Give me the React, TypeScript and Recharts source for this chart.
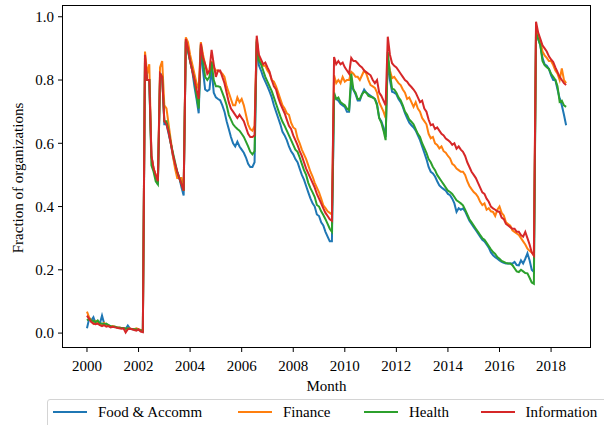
import { LineChart, Line, XAxis, YAxis } from "recharts"

// monthly fraction of organizations, Jan 2000 .. Aug 2018
const START_YEAR = 2000

const foodAccomm = [
  0.015, 0.045, 0.04, 0.05, 0.03, 0.035, 0.03, 0.055, 0.03, 0.025, 0.025, 0.022, 0.02, 0.02, 0.018, 0.017, 0.016, 0.015, 0.013, 0.024, 0.014, 0.012, 0.012, 0.011, 0.01, 0.008, 0.005,
  0.87, 0.8, 0.8, 0.56, 0.52, 0.49, 0.47, 0.8, 0.82, 0.66, 0.66, 0.63, 0.6, 0.56, 0.53, 0.51, 0.49, 0.46, 0.435,
  0.92, 0.89, 0.86, 0.83, 0.78, 0.74, 0.695,
  0.9, 0.83, 0.77, 0.765, 0.77, 0.837, 0.76, 0.745, 0.74, 0.736, 0.72, 0.7, 0.67, 0.645, 0.62, 0.6, 0.59, 0.605, 0.59, 0.58, 0.57, 0.555, 0.535, 0.525, 0.525, 0.54,
  0.92,
  0.847, 0.83, 0.81, 0.795, 0.78, 0.763, 0.745, 0.72, 0.7, 0.68, 0.66, 0.636, 0.625, 0.61, 0.59, 0.575, 0.565, 0.55, 0.54, 0.52, 0.5, 0.485, 0.465, 0.445, 0.426, 0.41, 0.4, 0.375, 0.37, 0.35, 0.34, 0.32, 0.305, 0.29, 0.29,
  0.75, 0.74, 0.735, 0.725, 0.72, 0.715, 0.7, 0.7, 0.79, 0.77, 0.755, 0.735, 0.735, 0.755, 0.77, 0.76, 0.755, 0.75, 0.745, 0.74, 0.725, 0.68, 0.67, 0.65, 0.62,
  0.87, 0.8, 0.763, 0.76, 0.755, 0.74, 0.73, 0.715, 0.695, 0.68, 0.665, 0.657, 0.65, 0.64, 0.625, 0.61, 0.59, 0.57, 0.55, 0.525, 0.51, 0.505, 0.495, 0.48, 0.467, 0.46, 0.455, 0.45, 0.44, 0.436, 0.425, 0.41, 0.383, 0.395, 0.39, 0.394, 0.385, 0.37, 0.355, 0.345, 0.335, 0.325, 0.315, 0.305, 0.295, 0.29, 0.28, 0.27, 0.255, 0.246, 0.24, 0.235, 0.23, 0.225, 0.222, 0.22, 0.22, 0.22, 0.22, 0.225, 0.215, 0.214, 0.23, 0.22, 0.235, 0.252, 0.23, 0.2, 0.193,
  0.96, 0.93, 0.91, 0.87, 0.85, 0.845, 0.835, 0.815, 0.8, 0.8, 0.77, 0.742, 0.72, 0.69, 0.657,
]

const finance = [
  0.068, 0.05, 0.04, 0.03, 0.038, 0.03, 0.028, 0.025, 0.032, 0.025, 0.024, 0.02, 0.022, 0.02, 0.018, 0.018, 0.016, 0.015, 0.012, 0.015, 0.014, 0.013, 0.012, 0.015, 0.012, 0.01, 0.008,
  0.89, 0.82, 0.85, 0.56, 0.52, 0.5, 0.48, 0.84, 0.86, 0.72, 0.71, 0.66, 0.61, 0.56, 0.52, 0.49, 0.49, 0.49, 0.45,
  0.935, 0.92, 0.88, 0.85, 0.82, 0.79, 0.77,
  0.92, 0.88, 0.85, 0.83, 0.82, 0.86, 0.84, 0.83, 0.83, 0.826, 0.82, 0.81, 0.78, 0.76, 0.74, 0.72, 0.72, 0.745, 0.73, 0.74, 0.72, 0.69, 0.66, 0.645, 0.64, 0.655,
  0.93,
  0.87, 0.86, 0.845, 0.845, 0.83, 0.82, 0.8, 0.795, 0.78, 0.76, 0.74, 0.72, 0.71, 0.695, 0.69, 0.665, 0.65, 0.645, 0.616, 0.6, 0.58, 0.565, 0.55, 0.53, 0.51, 0.495, 0.475, 0.46, 0.445, 0.425, 0.404, 0.395, 0.385, 0.38, 0.375,
  0.815, 0.79, 0.8, 0.79, 0.81, 0.795, 0.8, 0.8, 0.826, 0.82, 0.81, 0.81, 0.8, 0.815, 0.83, 0.82, 0.8, 0.784, 0.78, 0.775, 0.76, 0.73, 0.715, 0.7, 0.68,
  0.868, 0.83, 0.806, 0.81, 0.8, 0.79, 0.784, 0.77, 0.76, 0.74, 0.745, 0.73, 0.715, 0.73, 0.71, 0.7, 0.68, 0.67, 0.66, 0.63, 0.616, 0.62, 0.6, 0.595, 0.584, 0.59, 0.575, 0.57, 0.56, 0.552, 0.535, 0.53, 0.52, 0.515, 0.51, 0.51, 0.5, 0.48, 0.465, 0.455, 0.446, 0.44, 0.43, 0.415, 0.405, 0.41, 0.39, 0.395, 0.385, 0.383, 0.37, 0.39, 0.4, 0.38, 0.372, 0.35, 0.345, 0.34, 0.325, 0.32, 0.315, 0.31, 0.3, 0.29, 0.28, 0.267, 0.26, 0.255, 0.245,
  0.97, 0.94, 0.925, 0.89, 0.878, 0.87, 0.86, 0.86, 0.847, 0.83, 0.82, 0.8, 0.837, 0.8, 0.79,
]

const health = [
  0.04, 0.045, 0.04, 0.038, 0.035, 0.04, 0.03, 0.03, 0.028, 0.03, 0.025, 0.022, 0.02, 0.02, 0.018, 0.017, 0.016, 0.016, 0.014, 0.015, 0.013, 0.013, 0.012, 0.012, 0.01, 0.009, 0.007,
  0.86, 0.8, 0.8, 0.53, 0.51, 0.48, 0.47, 0.81, 0.81, 0.67, 0.67, 0.64, 0.6, 0.57, 0.54, 0.51, 0.49, 0.47, 0.45,
  0.925, 0.895, 0.86, 0.83, 0.8, 0.75, 0.71,
  0.91, 0.86, 0.81, 0.8, 0.81, 0.857, 0.8, 0.78, 0.78, 0.778, 0.76, 0.742, 0.72, 0.69, 0.675, 0.66, 0.652, 0.645, 0.64, 0.63, 0.62, 0.605, 0.59, 0.573, 0.565, 0.575,
  0.925,
  0.863, 0.85, 0.83, 0.81, 0.795, 0.78, 0.765, 0.745, 0.725, 0.705, 0.685, 0.668, 0.655, 0.64, 0.625, 0.61, 0.595, 0.58, 0.573, 0.555, 0.535, 0.515, 0.5, 0.475, 0.458, 0.445, 0.43, 0.405, 0.4, 0.385, 0.373, 0.36, 0.345, 0.33, 0.32,
  0.76, 0.74, 0.745, 0.73, 0.725, 0.72, 0.71, 0.705, 0.82, 0.77, 0.76, 0.74, 0.74, 0.755, 0.763, 0.76, 0.75, 0.747, 0.745, 0.74, 0.72, 0.68, 0.665, 0.64, 0.61,
  0.889, 0.82, 0.773, 0.77, 0.76, 0.745, 0.736, 0.72, 0.7, 0.69, 0.675, 0.668, 0.66, 0.645, 0.63, 0.62, 0.6, 0.585, 0.57, 0.55, 0.54, 0.525, 0.515, 0.5, 0.49, 0.48, 0.47, 0.46, 0.45, 0.446, 0.44, 0.43, 0.42, 0.415, 0.41, 0.404, 0.39, 0.375, 0.36, 0.35, 0.34, 0.33, 0.32, 0.31, 0.3, 0.295, 0.285, 0.275, 0.265, 0.256, 0.25, 0.24, 0.235, 0.228, 0.225, 0.222, 0.22, 0.22, 0.215, 0.205, 0.195, 0.193, 0.2, 0.195, 0.19, 0.189, 0.175, 0.16, 0.156,
  0.95, 0.93, 0.91, 0.86, 0.847, 0.84, 0.835, 0.82, 0.81, 0.8, 0.78, 0.731, 0.735, 0.72, 0.715,
]

const information = [
  0.055, 0.045, 0.035, 0.03, 0.028, 0.03, 0.025, 0.022, 0.025, 0.02, 0.022, 0.018, 0.02, 0.018, 0.017, 0.015, 0.014, 0.015, 0.002, 0.012, 0.014, 0.012, 0.01, 0.008, 0.012, 0.005, 0.003,
  0.88, 0.8, 0.8, 0.56, 0.52, 0.5, 0.48, 0.82, 0.81, 0.67, 0.66, 0.635, 0.6, 0.565, 0.535, 0.51, 0.49, 0.47, 0.45,
  0.93, 0.9, 0.86, 0.83, 0.8, 0.77, 0.74,
  0.915, 0.87, 0.85, 0.82, 0.83, 0.895, 0.85, 0.81, 0.83, 0.83, 0.81, 0.79, 0.76, 0.73, 0.71, 0.7, 0.69, 0.68, 0.69, 0.68, 0.67, 0.65, 0.63, 0.62, 0.62, 0.625,
  0.94,
  0.88, 0.865, 0.85, 0.855, 0.84, 0.826, 0.8, 0.78, 0.77, 0.745, 0.725, 0.71, 0.695, 0.675, 0.655, 0.645, 0.625, 0.61, 0.594, 0.575, 0.56, 0.54, 0.52, 0.505, 0.49, 0.475, 0.46, 0.44, 0.425, 0.41, 0.394, 0.38, 0.37, 0.36, 0.355,
  0.873, 0.85, 0.86, 0.85, 0.855, 0.84, 0.83, 0.82, 0.87, 0.86, 0.86, 0.853, 0.845, 0.84, 0.83, 0.825, 0.82, 0.815, 0.8, 0.79, 0.8, 0.76, 0.75, 0.735, 0.72,
  0.937, 0.88, 0.853, 0.845, 0.84, 0.83, 0.82, 0.81, 0.8, 0.795, 0.785, 0.778, 0.77, 0.76, 0.745, 0.73, 0.735, 0.71, 0.7, 0.675, 0.657, 0.66, 0.645, 0.65, 0.64, 0.63, 0.625, 0.615, 0.61, 0.604, 0.595, 0.6, 0.583, 0.59, 0.58, 0.573, 0.56, 0.54, 0.525, 0.51, 0.5, 0.49, 0.475, 0.46, 0.445, 0.44, 0.425, 0.415, 0.4, 0.394, 0.39, 0.385, 0.383, 0.365, 0.36, 0.345, 0.34, 0.335, 0.33, 0.33, 0.32, 0.32, 0.31, 0.305, 0.32, 0.3, 0.28, 0.255, 0.245,
  0.984, 0.95, 0.93, 0.91, 0.9, 0.89, 0.875, 0.865, 0.857, 0.84, 0.825, 0.81, 0.8, 0.79, 0.784,
]

const xTicks = [2000, 2002, 2004, 2006, 2008, 2010, 2012, 2014, 2016, 2018]
const yTicks = [0, 0.2, 0.4, 0.6, 0.8, 1.0]

const series = [
  { key: "food", name: "Food & Accomm", color: "#1f77b4", values: foodAccomm },
  { key: "finance", name: "Finance", color: "#ff7f0e", values: finance },
  { key: "health", name: "Health", color: "#2ca02c", values: health },
  { key: "info", name: "Information", color: "#d62728", values: information },
]

// month index -> fractional year
const data = foodAccomm.map((_, i) => {
  const row: Record<string, number> = { t: START_YEAR + i / 12 }
  series.forEach((s) => {
    row[s.key] = s.values[i]
  })
  return row
})

const FONT = "'Liberation Serif', 'Times New Roman', serif"

function YLabel() {
  return (
    <text
      x={18}
      y={178}
      transform="rotate(-90, 18, 178)"
      textAnchor="middle"
      dominantBaseline="central"
      fontFamily={FONT}
      fontSize={15}
      fill="#000"
    >
      Fraction of organizations
    </text>
  )
}

const legendLeft = [5, 190, 316, 432.6]

export default function App() {
  return (
    <div
      style={{
        position: "absolute",
        left: 0,
        top: 0,
        width: 604,
        height: 425,
        overflow: "hidden",
        background: "#fff",
      }}
    >
      <LineChart
        width={604}
        height={425}
        data={data}
        margin={{ top: 6, right: 14, bottom: 28, left: 0 }}
      >
        <XAxis
          dataKey="t"
          type="number"
          domain={[1999.07, 2019.51]}
          ticks={xTicks}
          allowDataOverflow
          axisLine={false}
          tickLine={{ stroke: "#000" }}
          tickSize={5}
          tickMargin={8}
          height={50}
          tick={{ fill: "#000", fontSize: 15, fontFamily: FONT }}
          label={{
            value: "Month",
            position: "insideBottom",
            offset: 6,
            fill: "#000",
            fontSize: 15,
            fontFamily: FONT,
          }}
        />
        <YAxis
          type="number"
          domain={[-0.044, 1.034]}
          ticks={yTicks}
          allowDataOverflow
          width={63}
          axisLine={false}
          tickLine={{ stroke: "#000" }}
          tickSize={5}
          tickMargin={4}
          tickFormatter={(v: number) => v.toFixed(1)}
          tick={{ fill: "#000", fontSize: 15, fontFamily: FONT }}
          label={<YLabel />}
        />
        {series.map((s) => (
          <Line
            key={s.key}
            type="linear"
            dataKey={s.key}
            name={s.name}
            stroke={s.color}
            strokeWidth={2}
            dot={false}
            isAnimationActive={false}
          />
        ))}
      </LineChart>
      {/* axes frame */}
      <div
        style={{
          position: "absolute",
          left: 62,
          top: 5,
          width: 529,
          height: 343,
          boxSizing: "border-box",
          border: "1px solid #000",
          pointerEvents: "none",
        }}
      />
      {/* legend */}
      <div
        style={{
          position: "absolute",
          left: 47,
          top: 399,
          width: 566,
          height: 40,
          boxSizing: "border-box",
          border: "1px solid #d4d4d4",
          borderRadius: 3,
          fontFamily: FONT,
          fontSize: 15,
          color: "#000",
        }}
      >
        {series.map((s, i) => (
          <div
            key={s.key}
            style={{
              position: "absolute",
              left: legendLeft[i],
              top: 3,
              height: 18,
              display: "flex",
              alignItems: "center",
              whiteSpace: "nowrap",
            }}
          >
            <span
              style={{
                display: "inline-block",
                width: 34,
                height: 2,
                background: s.color,
                marginRight: 11,
              }}
            />
            <span>{s.name}</span>
          </div>
        ))}
      </div>
    </div>
  )
}
